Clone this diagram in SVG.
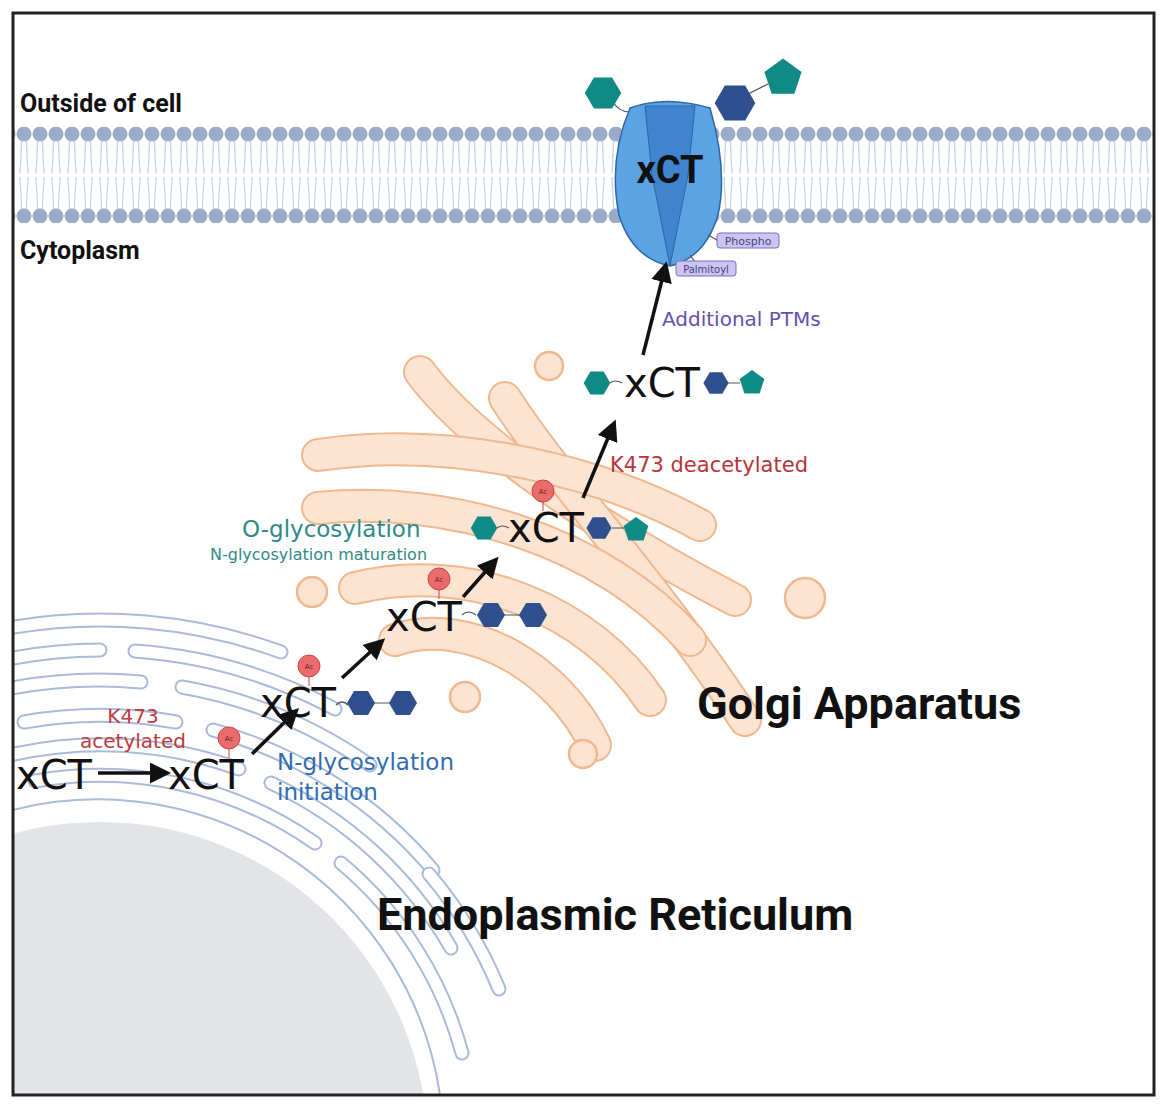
<svg xmlns="http://www.w3.org/2000/svg" width="1166" height="1108" viewBox="0 0 1166 1108">
<defs>
<style>
.t{font-family:"DejaVu Sans",sans-serif}
.b{font-family:Roboto,"Liberation Sans",sans-serif;font-weight:bold}
.x{font-family:"DejaVu Sans",sans-serif;font-size:40px;fill:#111}
.er1{fill:none;stroke:#a9badb;stroke-width:15;stroke-linecap:round}
.er2{fill:none;stroke:#fff;stroke-width:11;stroke-linecap:round}
.g1{fill:none;stroke:#f0b88e;stroke-width:34;stroke-linecap:round}
.g2{fill:none;stroke:#fce4d2;stroke-width:30;stroke-linecap:round}
.ves{fill:#fce4d2;stroke:#f0b88e;stroke-width:2.5}
.arr{stroke:#111;stroke-width:3.5;fill:none;marker-end:url(#ah)}
.ac{fill:#e96b6b;stroke:#c44;stroke-width:1}
.act{font-family:"DejaVu Sans",sans-serif;font-size:7px;fill:#7a1a1a;text-anchor:middle}
.nh{fill:#2f4f8f}
.th{fill:#0f8a84}
.lk{fill:none;stroke:#555;stroke-width:1.2}
</style>
<marker id="ah" markerWidth="6" markerHeight="6" refX="4" refY="3" orient="auto"><path d="M0,0 L6,3 L0,6 Z" fill="#111"/></marker>
<pattern id="mem" x="0" y="127" width="16" height="96" patternUnits="userSpaceOnUse">
<path d="M6,8 L4,46 M10,8 L12,46 M4,50 L6,88 M12,50 L10,88" stroke="#c3d1e7" stroke-width="1.3" fill="none"/>
<circle cx="8" cy="7" r="7.5" fill="#9aabc6"/>
<circle cx="8" cy="89" r="7.5" fill="#9aabc6"/>
</pattern>
<clipPath id="fr"><rect x="14" y="14" width="1139" height="1080"/></clipPath>
<polygon id="hex" points="-14,0 -7,-12 7,-12 14,0 7,12 -7,12"/>
<polygon id="pent" points="0,-13 12.4,-4 7.6,10.5 -7.6,10.5 -12.4,-4"/>
</defs>
<rect width="1166" height="1108" fill="#fff"/>
<g id="membrane"><rect x="14" y="127" width="1139" height="96" fill="url(#mem)"/></g>
<g id="nucleus-er" clip-path="url(#fr)">
<circle cx="100" cy="1150" r="328" fill="#e2e4e7"/>
<path d="M-5,815 A346 346 0 0 1 440,1095" fill="none" stroke="#a9badb" stroke-width="2"/>
<g>
<path class="er1" d="M35,781 A375 375 0 0 1 315,843"/><path class="er2" d="M35,781 A375 375 0 0 1 315,843"/>
<path class="er1" d="M341,863 A375 375 0 0 1 462,1053"/><path class="er2" d="M341,863 A375 375 0 0 1 462,1053"/>
<path class="er1" d="M2,757 A405 405 0 0 1 239,769"/><path class="er2" d="M2,757 A405 405 0 0 1 239,769"/>
<path class="er1" d="M271,783 A405 405 0 0 1 451,948"/><path class="er2" d="M271,783 A405 405 0 0 1 451,948"/>
<path class="er1" d="M24,722 A435 435 0 0 1 176,722"/><path class="er2" d="M24,722 A435 435 0 0 1 176,722"/>
<path class="er1" d="M213,730 A435 435 0 0 1 433,870"/><path class="er2" d="M213,730 A435 435 0 0 1 433,870"/>
<path class="er1" d="M429,874 A430 430 0 0 1 499,989"/><path class="er2" d="M429,874 A430 430 0 0 1 499,989"/>
<path class="er1" d="M2,690 A470 470 0 0 1 141,682"/><path class="er2" d="M2,690 A470 470 0 0 1 141,682"/>
<path class="er1" d="M182,687 A470 470 0 0 1 370,765"/><path class="er2" d="M182,687 A470 470 0 0 1 370,765"/>
<path class="er1" d="M13,658 A500 500 0 0 1 100,650"/><path class="er2" d="M13,658 A500 500 0 0 1 100,650"/>
<path class="er1" d="M135,651 A500 500 0 0 1 335,709"/><path class="er2" d="M135,651 A500 500 0 0 1 335,709"/>
<path class="er1" d="M8,628 A530 530 0 0 1 281,652"/><path class="er2" d="M8,628 A530 530 0 0 1 281,652"/>
</g>
</g>
<g id="golgi">
<path class="g1" d="M420,372 C470,440 600,530 735,600"/><path class="g2" d="M420,372 C470,440 600,530 735,600"/>
<path class="g1" d="M505,398 C550,470 660,590 745,720"/><path class="g2" d="M505,398 C550,470 660,590 745,720"/>
<path class="g1" d="M318,455 C450,435 600,470 700,525"/><path class="g2" d="M318,455 C450,435 600,470 700,525"/>
<path class="g1" d="M318,508 C450,495 600,540 690,640"/><path class="g2" d="M318,508 C450,495 600,540 690,640"/>
<path class="g1" d="M355,588 C470,560 590,610 650,700"/><path class="g2" d="M355,588 C470,560 590,610 650,700"/>
<path class="g1" d="M395,640 C470,615 560,670 595,745"/><path class="g2" d="M395,640 C470,615 560,670 595,745"/>
<circle class="ves" cx="549" cy="366" r="14"/>
<circle class="ves" cx="312" cy="592" r="15"/>
<circle class="ves" cx="465" cy="697" r="15"/>
<circle class="ves" cx="583" cy="754" r="14"/>
<circle class="ves" cx="805" cy="598" r="20"/>
</g>
<g id="transporter">
<path class="lk" d="M612,100 Q618,112 630,112"/>
<use href="#hex" class="th" transform="translate(603,93) scale(1.3)"/>
<path class="lk" d="M748,94 L768,84"/>
<use href="#hex" class="nh" transform="translate(735,103) scale(1.45)"/>
<use href="#pent" class="th" transform="translate(783,78) scale(1.5)"/>
<path d="M630,108 Q665,95 710,108 Q728,170 718,215 Q705,258 670,266 Q632,258 619,215 Q608,160 630,108 Z" fill="#5ca3e4" stroke="#2d66a8" stroke-width="1.5"/>
<path d="M645,106 L695,106 L688,175 L670,266 L652,175 Z" fill="#3f84cc" stroke="#2d66a8" stroke-width="1"/>
<text x="670" y="183" text-anchor="middle" class="b" font-size="38" fill="#111">xCT</text>
<path class="lk" d="M708,235 L717,240" stroke="#7a6fc0"/>
<rect x="717" y="233" width="62" height="15" rx="3" fill="#cbc5ef" stroke="#7a6fc0"/>
<text x="748" y="245" text-anchor="middle" class="t" font-size="11" fill="#4a3f88">Phospho</text>
<path class="lk" d="M690,255 L695,262" stroke="#7a6fc0"/>
<rect x="676" y="261" width="60" height="15" rx="3" fill="#cbc5ef" stroke="#7a6fc0"/>
<text x="706" y="273" text-anchor="middle" class="t" font-size="10" fill="#4a3f88">Palmitoyl</text>
</g>
<g id="connectors">
<path class="arr" d="M98,773 L164,773"/>
<path class="arr" d="M252,754 L294,713"/>
<path class="arr" d="M342,678 L380,643"/>
<path class="arr" d="M463,597 L494,562"/>
<path class="arr" d="M583,498 L613,426"/>
<path class="arr" d="M643,355 L665,268"/>
</g>
<g id="xct1"><text class="x" x="16" y="789">xCT</text></g>
<g id="xct2"><text class="x" x="168" y="789">xCT</text>
<line x1="229" y1="748" x2="229" y2="758" stroke="#c44"/><circle class="ac" cx="229" cy="738" r="11"/><text class="act" x="229" y="741">Ac</text></g>
<g id="xct3"><text class="x" x="260" y="717">xCT</text>
<line x1="309" y1="676" x2="309" y2="686" stroke="#c44"/><circle class="ac" cx="309" cy="666" r="11"/><text class="act" x="309" y="669">Ac</text>
<path class="lk" d="M336,705 q6,-6 12,0 M374,703 L390,703"/>
<use href="#hex" class="nh" transform="translate(361,703)"/><use href="#hex" class="nh" transform="translate(403,703)"/></g>
<g id="xct4"><text class="x" x="386" y="631">xCT</text>
<line x1="439" y1="589" x2="439" y2="599" stroke="#c44"/><circle class="ac" cx="439" cy="579" r="11"/><text class="act" x="439" y="582">Ac</text>
<path class="lk" d="M462,615 q6,-6 14,0 M504,615 L520,615"/>
<use href="#hex" class="nh" transform="translate(491,615)"/><use href="#hex" class="nh" transform="translate(533,615)"/></g>
<g id="xct5"><text class="x" x="508" y="542">xCT</text>
<line x1="543" y1="501" x2="543" y2="511" stroke="#c44"/><circle class="ac" cx="543" cy="491" r="11"/><text class="act" x="543" y="494">Ac</text>
<path class="lk" d="M497,528 q5,-4 12,0 M612,528 L624,528"/>
<use href="#hex" class="th" transform="translate(484,528) scale(0.95)"/><use href="#hex" class="nh" transform="translate(599,528) scale(0.9)"/><use href="#pent" class="th" transform="translate(636,530)"/></g>
<g id="xct6"><text class="x" x="624" y="397">xCT</text>
<path class="lk" d="M610,383 q5,-4 12,0 M728,383 L740,383"/>
<use href="#hex" class="th" transform="translate(597,383) scale(0.95)"/><use href="#hex" class="nh" transform="translate(716,383) scale(0.9)"/><use href="#pent" class="th" transform="translate(752,383)"/></g>
<g id="labels">
<text class="t" x="133" y="723" text-anchor="middle" font-size="20" fill="#c0393b">K473</text>
<text class="t" x="133" y="748" text-anchor="middle" font-size="20" fill="#c0393b">acetylated</text>
<text class="t" x="277" y="770" font-size="23" fill="#2f6db0">N-glycosylation</text>
<text class="t" x="277" y="800" font-size="23" fill="#2f6db0">initiation</text>
<text class="t" x="242" y="537" font-size="23" fill="#2e8a86">O-glycosylation</text>
<text class="t" x="210" y="560" font-size="16" fill="#2e8a86">N-glycosylation maturation</text>
<text class="t" x="610" y="472" font-size="21" fill="#b8343a">K473 deacetylated</text>
<text class="t" x="662" y="326" font-size="20" fill="#6650b0">Additional PTMs</text>
<text class="b" x="697" y="719" font-size="45" fill="#111">Golgi Apparatus</text>
<text class="b" x="377" y="930" font-size="45" fill="#111">Endoplasmic Reticulum</text>
<text class="b" x="20" y="112" font-size="25" fill="#111">Outside of cell</text>
<text class="b" x="20" y="259" font-size="25" fill="#111">Cytoplasm</text>
</g>
<rect x="13" y="13" width="1141" height="1082" fill="none" stroke="#222" stroke-width="3"/>
</svg>
